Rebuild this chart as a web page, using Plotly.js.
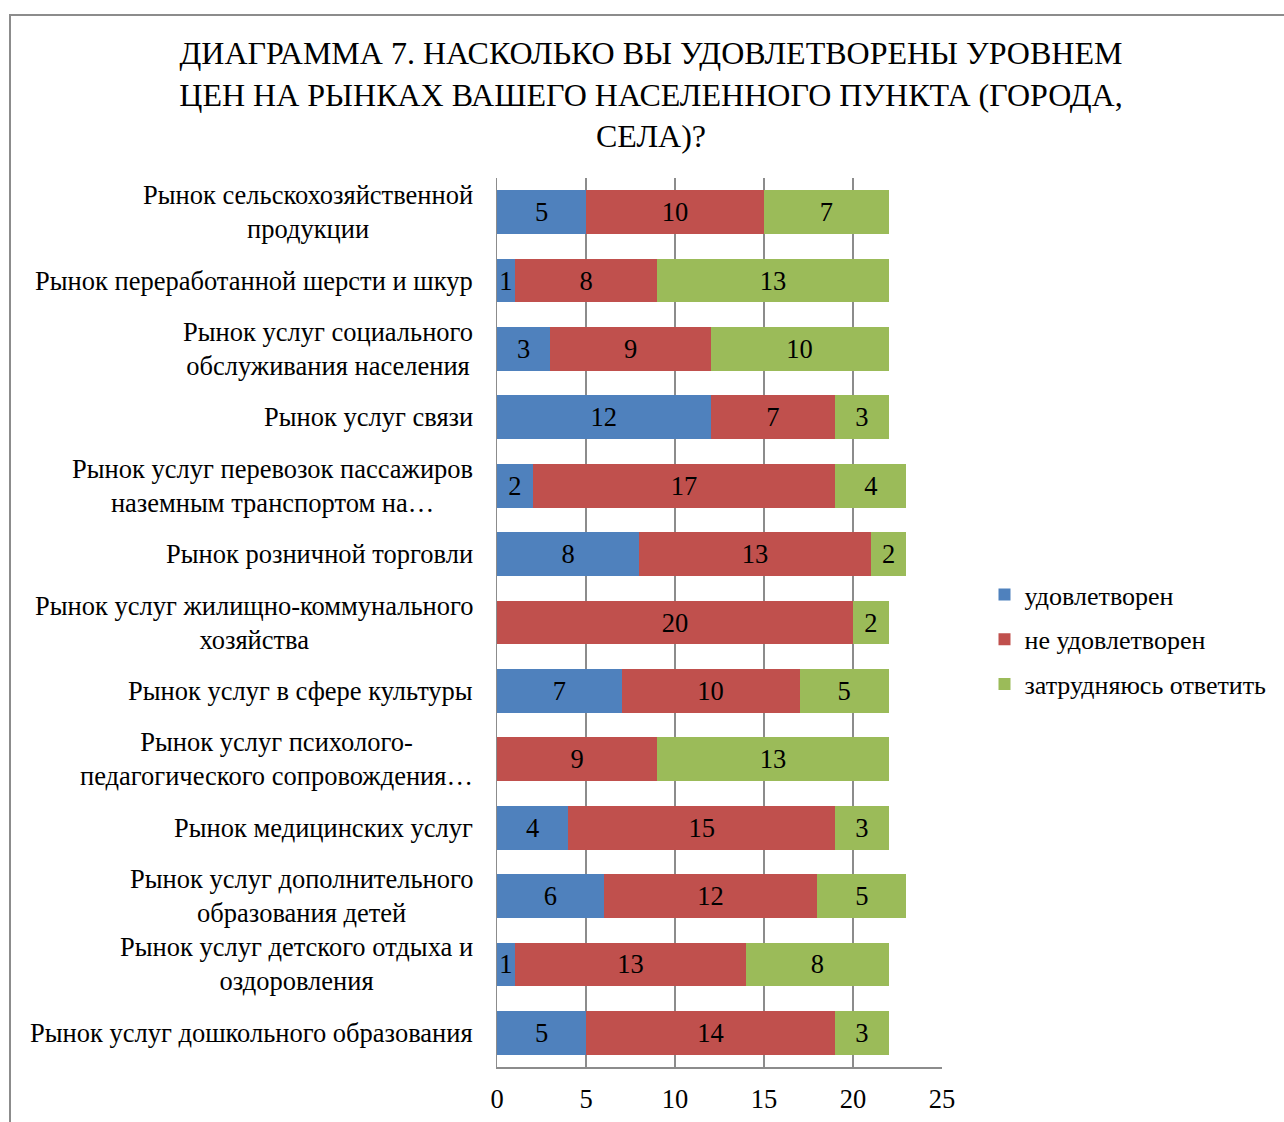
<!DOCTYPE html>
<html>
<head>
<meta charset="utf-8">
<script src="https://cdn.plot.ly/plotly-3.0.1.min.js"></script>
<style>
  html, body { margin: 0; padding: 0; background: #fff; }
  #frame { position: absolute; left: 9px; top: 14px; width: 1400px; height: 1300px; border: 2px solid #8c8c8c; box-sizing: border-box; }
  #chart { position: absolute; left: 0; top: 0; width: 1284px; height: 1122px; }
</style>
</head>
<body>
<div id="frame"></div>
<div id="chart"></div>
<script>
const titleText = "ДИАГРАММА 7. НАСКОЛЬКО ВЫ УДОВЛЕТВОРЕНЫ УРОВНЕМ<br>ЦЕН НА РЫНКАХ ВАШЕГО НАСЕЛЕННОГО ПУНКТА (ГОРОДА,<br>СЕЛА)?";

const categories = [
  "Рынок сельскохозяйственной<br>продукции",
  "Рынок переработанной шерсти и шкур",
  "Рынок услуг социального<br>обслуживания населения",
  "Рынок услуг связи",
  "Рынок услуг перевозок пассажиров<br>наземным транспортом на…",
  "Рынок розничной торговли",
  "Рынок услуг жилищно-коммунального<br>хозяйства",
  "Рынок услуг в сфере культуры",
  "Рынок услуг психолого-<br>педагогического сопровождения…",
  "Рынок медицинских услуг",
  "Рынок услуг дополнительного<br>образования детей",
  "Рынок услуг детского отдыха и<br>оздоровления",
  "Рынок услуг дошкольного образования"
];

const seriesNames = ["удовлетворен", "не удовлетворен", "затрудняюсь ответить"];
const satisfied    = [5, 1, 3, 12, 2, 8, 0, 7, 0, 4, 6, 1, 5];
const notSatisfied = [10, 8, 9, 7, 17, 13, 20, 10, 9, 15, 12, 13, 14];
const hardToSay    = [7, 13, 10, 3, 4, 2, 2, 5, 13, 3, 5, 8, 3];
const colors = ["#4F81BD", "#C0504D", "#9BBB59"];

const xTicks = [0, 5, 10, 15, 20, 25];

const FONT = "'Liberation Serif', 'Times New Roman', serif";
const FS = 26.5;
const seriesValues = [satisfied, notSatisfied, hardToSay];
const ids = categories.map((c, i) => "c" + i);

const traces = seriesValues.map((vals, k) => ({
  type: "bar",
  orientation: "h",
  name: seriesNames[k],
  legendgroup: "g" + k,
  y: ids,
  x: vals,
  text: vals.map(v => v ? String(v) : ""),
  textposition: "inside",
  insidetextanchor: "middle",
  constraintext: "none",
  textangle: 0,
  textfont: { family: FONT, size: FS, color: "#000" },
  marker: { color: colors[k], line: { width: 0 } },
  hoverinfo: "none"
}));

const annotations = categories.map((c, i) => ({
  text: c,
  xref: "paper", yref: "y",
  x: -0.05, y: ids[i],
  xanchor: "right", yanchor: "middle",
  align: "center",
  showarrow: false,
  font: { family: FONT, size: FS, color: "#000" }
}));

const layout = {
  width: 1284, height: 1122,
  margin: { l: 497, r: 342, t: 178, b: 55 },
  paper_bgcolor: "rgba(0,0,0,0)",
  plot_bgcolor: "rgba(0,0,0,0)",
  barmode: "stack",
  bargap: 0.36,
  font: { family: FONT, size: FS, color: "#000" },
  title: {
    text: titleText,
    font: { family: FONT, size: 32, color: "#000" },
    x: 0.507, xref: "container", xanchor: "center",
    y: 1 - 64 / 1122, yref: "container", yanchor: "top"
  },
  xaxis: {
    range: [0, 25],
    tickvals: xTicks,
    ticktext: xTicks.map(String),
    showgrid: true, gridcolor: "#8c8c8c", gridwidth: 1.5,
    showline: true, linecolor: "#8c8c8c", linewidth: 1.5,
    zeroline: false,
    ticks: "", ticklabelstandoff: 8,
    tickfont: { family: FONT, size: FS, color: "#000" },
    fixedrange: true
  },
  yaxis: {
    type: "category",
    categoryorder: "array", categoryarray: ids,
    autorange: "reversed",
    showticklabels: false,
    showgrid: false,
    showline: true, linecolor: "#8c8c8c", linewidth: 1.5,
    ticks: "",
    fixedrange: true
  },
  showlegend: true,
  legend: {
    x: 1.0955, xanchor: "left",
    y: (1122 - 55 - 571) / (1122 - 178 - 55), yanchor: "top",
    traceorder: "grouped",
    tracegroupgap: 8,
    font: { family: FONT, size: 26, color: "#000" },
    itemwidth: 30,
    bgcolor: "rgba(0,0,0,0)"
  },
  annotations: annotations
};

Plotly.newPlot("chart", traces, layout, { displayModeBar: false, staticPlot: true });
</script>
</body>
</html>
